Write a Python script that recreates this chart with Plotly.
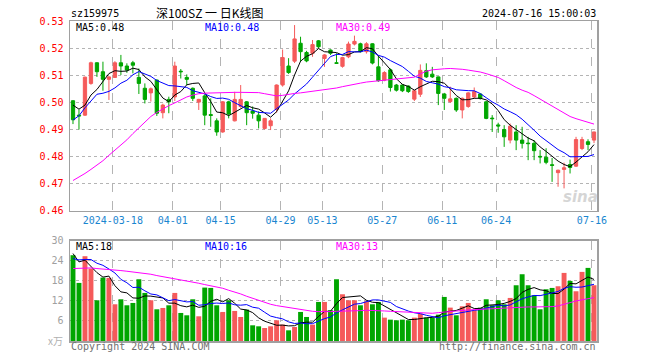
import numpy as np
import plotly.graph_objects as go

dates = [
    "2024-03-07", "2024-03-08", "2024-03-11", "2024-03-12", "2024-03-13", "2024-03-14", "2024-03-15",
    "2024-03-18", "2024-03-19", "2024-03-20", "2024-03-21", "2024-03-22", "2024-03-25", "2024-03-26",
    "2024-03-27", "2024-03-28", "2024-03-29", "2024-04-01", "2024-04-02", "2024-04-03", "2024-04-08",
    "2024-04-09", "2024-04-10", "2024-04-11", "2024-04-12", "2024-04-15", "2024-04-16", "2024-04-17",
    "2024-04-18", "2024-04-19", "2024-04-22", "2024-04-23", "2024-04-24", "2024-04-25", "2024-04-26",
    "2024-04-29", "2024-04-30", "2024-05-06", "2024-05-07", "2024-05-08", "2024-05-09", "2024-05-10",
    "2024-05-13", "2024-05-14", "2024-05-15", "2024-05-16", "2024-05-17", "2024-05-20", "2024-05-21",
    "2024-05-22", "2024-05-23", "2024-05-24", "2024-05-27", "2024-05-28", "2024-05-29", "2024-05-30",
    "2024-05-31", "2024-06-03", "2024-06-04", "2024-06-05", "2024-06-06", "2024-06-07", "2024-06-11",
    "2024-06-12", "2024-06-13", "2024-06-14", "2024-06-17", "2024-06-18", "2024-06-19", "2024-06-20",
    "2024-06-21", "2024-06-24", "2024-06-25", "2024-06-26", "2024-06-27", "2024-06-28", "2024-07-01",
    "2024-07-02", "2024-07-03", "2024-07-04", "2024-07-05", "2024-07-08", "2024-07-09", "2024-07-10",
    "2024-07-11", "2024-07-12", "2024-07-15", "2024-07-16",
]

opens = [0.5006, 0.4953, 0.4953, 0.5070, 0.5146, 0.5113, 0.5085, 0.5092, 0.5146, 0.5134,
         0.5146, 0.5092, 0.5052, 0.5035, 0.5082, 0.4962, 0.5011, 0.5020, 0.5115, 0.5092,
         0.5052, 0.5001, 0.5024, 0.4955, 0.4932, 0.4891, 0.5002, 0.4932, 0.4985, 0.5002,
         0.4968, 0.4953, 0.4904, 0.4914, 0.4974, 0.5064, 0.5134, 0.5152, 0.5218, 0.5184,
         0.5181, 0.5227, 0.5162, 0.5193, 0.5146, 0.5133, 0.5168, 0.5215, 0.5216, 0.5187,
         0.5216, 0.5131, 0.5082, 0.5120, 0.5064, 0.5064, 0.5060, 0.5012, 0.5030, 0.5117,
         0.5104, 0.5094, 0.5031, 0.5003, 0.5015, 0.4972, 0.4985, 0.5020, 0.5031, 0.5002,
         0.4942, 0.4917, 0.4900, 0.4861, 0.4891, 0.4861, 0.4850, 0.4849, 0.4801, 0.4798,
         0.4770, 0.4741, 0.4753, 0.4771, 0.4765, 0.4830, 0.4855, 0.4861]
highs = [0.5008, 0.4974, 0.5095, 0.5150, 0.5148, 0.5150, 0.5096, 0.5152, 0.5175, 0.5144,
         0.5153, 0.5125, 0.5070, 0.5055, 0.5085, 0.4995, 0.5021, 0.5150, 0.5123, 0.5103,
         0.5055, 0.5013, 0.5030, 0.5015, 0.4941, 0.5005, 0.5006, 0.5039, 0.5064, 0.5005,
         0.4985, 0.4967, 0.4941, 0.4941, 0.5066, 0.5195, 0.5163, 0.5285, 0.5242, 0.5190,
         0.5230, 0.5230, 0.5178, 0.5195, 0.5181, 0.5168, 0.5224, 0.5246, 0.5220, 0.5222,
         0.5218, 0.5172, 0.5115, 0.5125, 0.5068, 0.5066, 0.5063, 0.5045, 0.5140, 0.5144,
         0.5131, 0.5095, 0.5035, 0.5058, 0.5018, 0.5018, 0.5038, 0.5055, 0.5033, 0.5005,
         0.4953, 0.4925, 0.4916, 0.4922, 0.4916, 0.4910, 0.4873, 0.4861, 0.4824, 0.4831,
         0.4795, 0.4752, 0.4778, 0.4789, 0.4873, 0.4873, 0.4864, 0.4892]
lows = [0.4920, 0.4900, 0.4950, 0.5065, 0.5094, 0.5043, 0.5009, 0.5090, 0.5101, 0.5109,
        0.5107, 0.5031, 0.4996, 0.5003, 0.4950, 0.4941, 0.4960, 0.5005, 0.5088, 0.5064,
        0.5005, 0.4972, 0.4916, 0.4910, 0.4877, 0.4888, 0.4941, 0.4930, 0.4980, 0.4916,
        0.4940, 0.4904, 0.4900, 0.4898, 0.4962, 0.5058, 0.5105, 0.5145, 0.5150, 0.5148,
        0.5168, 0.5200, 0.5131, 0.5175, 0.5142, 0.5128, 0.5163, 0.5210, 0.5184, 0.5180,
        0.5140, 0.5076, 0.5078, 0.5040, 0.5040, 0.5038, 0.5035, 0.5005, 0.5020, 0.5090,
        0.5090, 0.4990, 0.4972, 0.4998, 0.4965, 0.4941, 0.4980, 0.5015, 0.5010, 0.4938,
        0.4891, 0.4888, 0.4836, 0.4849, 0.4824, 0.4830, 0.4787, 0.4787, 0.4775, 0.4772,
        0.4707, 0.4689, 0.4683, 0.4738, 0.4762, 0.4824, 0.4824, 0.4850]
closes = [0.4936, 0.4950, 0.5093, 0.5146, 0.5113, 0.5085, 0.5094, 0.5146, 0.5134, 0.5119,
          0.5137, 0.5070, 0.5011, 0.5050, 0.4960, 0.4990, 0.5002, 0.5134, 0.5113, 0.5085,
          0.5015, 0.5011, 0.4953, 0.4952, 0.4891, 0.5002, 0.4957, 0.5011, 0.5011, 0.4962,
          0.4960, 0.4932, 0.4941, 0.4932, 0.5064, 0.5165, 0.5110, 0.5234, 0.5187, 0.5153,
          0.5213, 0.5205, 0.5175, 0.5181, 0.5144, 0.5165, 0.5215, 0.5225, 0.5187, 0.5216,
          0.5145, 0.5080, 0.5110, 0.5055, 0.5045, 0.5043, 0.5040, 0.5043, 0.5118, 0.5094,
          0.5094, 0.5033, 0.5015, 0.5013, 0.4972, 0.5015, 0.5035, 0.5040, 0.5015, 0.4941,
          0.4940, 0.4913, 0.4873, 0.4912, 0.4861, 0.4849, 0.4848, 0.4822, 0.4799, 0.4779,
          0.4768, 0.4750, 0.4759, 0.4760, 0.4863, 0.4863, 0.4845, 0.4891]
# closes of the nine sessions before the first visible candle (oldest first)
prior_closes = [0.4793, 0.4800, 0.4879, 0.4880, 0.5048, 0.5025, 0.5018, 0.4961, 0.5010]

ma30_price = [0.4712, 0.4724, 0.4738, 0.4753, 0.4768, 0.4785, 0.4805, 0.4823, 0.4842, 0.4862,
              0.4885, 0.4905, 0.4925, 0.4948, 0.4963, 0.4977, 0.4988, 0.4998, 0.5010, 0.5020,
              0.5027, 0.5032, 0.5034, 0.5035, 0.5036, 0.5036, 0.5037, 0.5037, 0.5037, 0.5037,
              0.5036, 0.5036, 0.5032, 0.5027, 0.5024, 0.5026, 0.5030, 0.5033, 0.5035, 0.5038,
              0.5040, 0.5043, 0.5046, 0.5048, 0.5053, 0.5058, 0.5063, 0.5067, 0.5071, 0.5075,
              0.5077, 0.5080, 0.5082, 0.5084, 0.5087, 0.5089, 0.5091, 0.5093, 0.5105, 0.5115,
              0.5120, 0.5123, 0.5124, 0.5125, 0.5124, 0.5122, 0.5119, 0.5116, 0.5112, 0.5106,
              0.5099, 0.5092, 0.5080, 0.5067, 0.5055, 0.5045, 0.5037, 0.5025, 0.5012, 0.5000,
              0.4988, 0.4975, 0.4960, 0.4948, 0.4940, 0.4933, 0.4928, 0.4920]

volumes = [25.7, 17.4, 25.4, 21.7, 12.2, 19.0, 18.9, 11.0, 12.5, 10.7,
           11.4, 18.5, 14.4, 12.2, 9.5, 9.9, 10.7, 14.4, 8.4, 7.7,
           12.5, 7.4, 16.0, 15.9, 10.7, 8.7, 12.2, 9.0, 7.2, 9.4,
           4.7, 4.4, 3.9, 4.4, 6.2, 4.9, 3.2, 4.2, 8.7, 7.2,
           4.9, 11.7, 11.7, 9.2, 18.5, 14.0, 12.2, 12.2, 10.7, 11.9,
           11.0, 11.7, 7.0, 6.4, 6.2, 6.4, 6.2, 7.0, 8.2, 7.0,
           7.0, 7.9, 13.2, 10.0, 7.7, 10.4, 11.4, 9.2, 10.0, 12.5,
           10.7, 12.2, 11.0, 12.9, 16.7, 20.0, 16.7, 13.7, 9.5, 15.5,
           15.9, 16.4, 20.4, 18.0, 14.9, 20.7, 21.9, 16.7]
prior_volumes = [21.5, 24.0, 22.0, 23.2, 25.3, 29.9, 22.9, 31.7, 20.8]

ma30_volume = [21.7, 21.8, 22.0, 21.9, 21.7, 21.6, 21.4, 21.2, 21.1, 20.9,
               20.7, 20.5, 20.3, 20.0, 19.6, 19.3, 19.0, 18.6, 18.3, 18.0,
               17.7, 17.3, 16.9, 16.6, 16.2, 15.8, 15.2, 14.7, 14.1, 13.4,
               12.8, 12.1, 11.5, 11.0, 10.6, 10.3, 9.9, 9.7, 9.4, 9.1,
               8.9, 8.8, 8.7, 8.8, 8.9, 8.9, 8.9, 9.0, 9.1, 9.2,
               9.2, 9.1, 9.0, 8.9, 8.8, 8.7, 8.6, 8.4, 8.3, 8.2,
               8.3, 8.5, 8.7, 8.9, 9.0, 9.2, 9.3, 9.4, 9.5, 9.6,
               9.8, 9.9, 10.0, 10.0, 10.1, 10.2, 10.2, 10.2, 10.2, 10.2,
               10.3, 10.5, 10.9, 11.5, 12.0, 12.4, 12.8, 13.0]

tick_dates = ["2024-03-18", "2024-04-01", "2024-04-15", "2024-04-29", "2024-05-13",
              "2024-05-27", "2024-06-11", "2024-06-24", "2024-07-16"]
tick_labels = ["2024-03-18", "04-01", "04-15", "04-29", "05-13", "05-27", "06-11", "06-24", "07-16"]
price_ticks = [0.46, 0.47, 0.48, 0.49, 0.50, 0.51, 0.52, 0.53]
volume_ticks = [6, 12, 18, 24, 30]

# ---------------------------------------------------------------------------
RED = "#f55a5a"
GREEN = "#00a600"
MONO = "DejaVu Sans Mono"

x = np.arange(len(dates))


def moving_avg(prior, vals, n):
    s = np.array(list(prior) + list(vals), dtype=float)
    out = np.convolve(s, np.ones(n) / n, mode="valid")
    return out[len(out) - len(vals):]


ma5 = moving_avg(prior_closes, closes, 5)
ma10 = moving_avg(prior_closes, closes, 10)
vma5 = moving_avg(prior_volumes, volumes, 5)
vma10 = moving_avg(prior_volumes, volumes, 10)

vol_colors = [RED if c >= o else GREEN for o, c in zip(opens, closes)]

fig = go.Figure()
fig.add_trace(go.Candlestick(
    x=x, open=opens, high=highs, low=lows, close=closes,
    increasing=dict(line=dict(color=RED, width=1), fillcolor=RED),
    decreasing=dict(line=dict(color=GREEN, width=1), fillcolor=GREEN),
    whiskerwidth=0, xaxis="x", yaxis="y", showlegend=False, hoverinfo="skip",
))
for vals, col in [(ma5, "#000000"), (ma10, "#0000ff"), (ma30_price, "#ff00ff")]:
    fig.add_trace(go.Scatter(x=x, y=vals, mode="lines", line=dict(color=col, width=1),
                             xaxis="x", yaxis="y", showlegend=False, hoverinfo="skip"))

fig.add_trace(go.Bar(x=x, y=volumes, marker=dict(color=vol_colors, line=dict(width=0)),
                     xaxis="x2", yaxis="y2", showlegend=False, hoverinfo="skip"))
for vals, col in [(vma5, "#000000"), (vma10, "#0000ff"), (ma30_volume, "#ff00ff")]:
    fig.add_trace(go.Scatter(x=x, y=vals, mode="lines", line=dict(color=col, width=1),
                             xaxis="x2", yaxis="y2", showlegend=False, hoverinfo="skip"))

# page coordinates (the body margin is removed by the post script)
W, H = 660, 360
PL, PR, PT, PB = 70, 597, 20.5, 341      # plot frame in page pixels
L, R, T, B = PL, W - PR, PT, H - PB
PW, PH = W - L - R, H - T - B


def px(xp):
    return (xp - L) / PW


def py(yp):
    return (H - B - yp) / PH


tickpos = [dates.index(d) - 0.35 for d in tick_dates]
frame = dict(showline=True, mirror=True, linecolor="#a0a0a0", linewidth=1.5)

fig.update_layout(
    width=W, height=H, margin=dict(l=L, r=R, t=T, b=B, autoexpand=False),
    paper_bgcolor="white", plot_bgcolor="white",
    bargap=0.18, boxgap=0.22, hovermode=False, dragmode=False,
    xaxis=dict(domain=[0, 1], range=[-0.5, len(dates) - 0.5], anchor="y",
               tickmode="array", tickvals=tickpos, ticktext=tick_labels,
               tickfont=dict(family=MONO, size=10, color="#1a86d0"),
               showgrid=True, gridcolor="#b4b4b4", griddash="dash", gridwidth=1,
               ticks="", rangeslider=dict(visible=False), zeroline=False, automargin=False,
               **frame),
    yaxis=dict(domain=[py(210.7), 1], range=[0.46, 0.53], anchor="x",
               tickmode="array", tickvals=price_ticks, tickformat=".2f",
               tickfont=dict(family=MONO, size=10, color="#ff0000"),
               showgrid=True, gridcolor="#b4b4b4", griddash="dot", gridwidth=1,
               ticks="", ticklabelstandoff=3, zeroline=False, automargin=False, **frame),
    xaxis2=dict(domain=[0, 1], range=[-0.5, len(dates) - 0.5], anchor="y2", matches="x",
                tickmode="array", tickvals=tickpos, showticklabels=False,
                showgrid=True, gridcolor="#b4b4b4", griddash="dash", gridwidth=1,
                ticks="", zeroline=False, automargin=False, **frame),
    yaxis2=dict(domain=[0, py(240.7)], range=[0, 30], anchor="x2",
                tickmode="array", tickvals=volume_ticks,
                tickfont=dict(family=MONO, size=10, color="#a0a0a0"),
                showgrid=True, gridcolor="#b4b4b4", griddash="dot", gridwidth=1,
                ticks="", ticklabelstandoff=3, zeroline=False, automargin=False, **frame),
)


def note(text, xp, yp, color="#000000", anchor="left", size=10, family=MONO, **kw):
    fig.add_annotation(text=text, x=px(xp), y=py(yp), xref="paper", yref="paper",
                       xanchor=anchor, yanchor="middle", showarrow=False,
                       font=dict(family=family, size=size, color=color), **kw)


note("sz159975", 69, 12.5)
note("深100SZ 一 日K线图", 210, 12, anchor="center", size=12, family="Noto Sans CJK SC")
note("2024-07-16 15:00:03", 598, 12.5, anchor="right")
note("MA5:0.48", 74, 26.8)
note("MA10:0.48", 203, 26.8, color="#0000ff")
note("MA30:0.49", 334, 26.8, color="#ff00ff")
note("MA5:18", 74, 246.5)
note("MA10:16", 203, 246.5, color="#0000ff")
note("MA30:13", 334, 246.5, color="#ff00ff")
note("x万", 65, 340, color="#b0b0b0", anchor="right", size=10, family="Noto Sans CJK SC")
note("Copyright 2024 SINA.COM", 69, 347, color="#707070")
note("http://finance.sina.com.cn", 598, 347, color="#707070", anchor="right")
note("<b><i>sina</i></b>", 580, 197, color="rgba(200,200,200,0.75)", anchor="center",
     size=15, family="DejaVu Sans")

fig.write_html("out.html", config={"displayModeBar": False, "staticPlot": True},
               post_script="document.body.style.margin='0px';")
